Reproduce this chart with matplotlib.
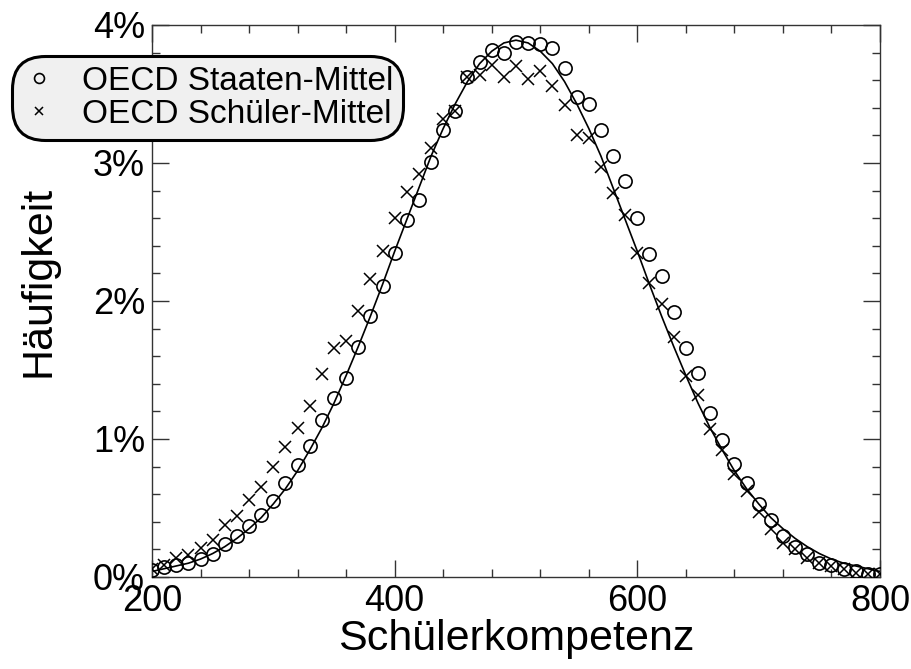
'''
Verteilung der Schülerkompetenz: OECD Staaten-Mittel vs. Schüler-Mittel
'''

from matplotlib import pyplot as plt
from matplotlib.ticker import MultipleLocator, FuncFormatter

plt.rcParams['font.family'] = ['Liberation Sans', 'DejaVu Sans']

# Kompetenzwerte (Punkte)
scores = list(range(200, 801, 10))

# Häufigkeit in %
staaten = [0.05, 0.07, 0.09, 0.10, 0.13, 0.17, 0.24, 0.30, 0.37, 0.45,
           0.55, 0.68, 0.81, 0.95, 1.14, 1.30, 1.44, 1.67, 1.89, 2.11,
           2.35, 2.59, 2.73, 3.01, 3.24, 3.38, 3.62, 3.73, 3.82, 3.80,
           3.88, 3.87, 3.86, 3.83, 3.69, 3.48, 3.43, 3.24, 3.05, 2.87,
           2.60, 2.34, 2.18, 1.92, 1.66, 1.48, 1.19, 0.99, 0.82, 0.68,
           0.53, 0.41, 0.30, 0.22, 0.17, 0.10, 0.09, 0.06, 0.04, 0.02,
           0.02]
schueler = [0.06, 0.09, 0.14, 0.16, 0.21, 0.27, 0.38, 0.44, 0.56, 0.65,
            0.80, 0.94, 1.08, 1.24, 1.47, 1.66, 1.71, 1.93, 2.16, 2.36,
            2.60, 2.79, 2.92, 3.11, 3.32, 3.38, 3.62, 3.64, 3.71, 3.62,
            3.70, 3.61, 3.67, 3.56, 3.42, 3.20, 3.18, 2.97, 2.78, 2.62,
            2.35, 2.13, 1.98, 1.74, 1.46, 1.32, 1.07, 0.92, 0.75, 0.62,
            0.47, 0.35, 0.25, 0.20, 0.14, 0.10, 0.08, 0.06, 0.03, 0.02,
            0.02]
# Normalverteilungskurve
kurve = [0.04, 0.06, 0.08, 0.10, 0.13, 0.17, 0.22, 0.28, 0.35, 0.43,
         0.53, 0.64, 0.77, 0.92, 1.08, 1.26, 1.46, 1.67, 1.89, 2.12,
         2.36, 2.59, 2.82, 3.05, 3.25, 3.43, 3.59, 3.72, 3.81, 3.87,
         3.89, 3.87, 3.81, 3.72, 3.59, 3.43, 3.25, 3.05, 2.82, 2.59,
         2.36, 2.12, 1.89, 1.67, 1.46, 1.26, 1.08, 0.92, 0.77, 0.64,
         0.53, 0.43, 0.35, 0.28, 0.22, 0.17, 0.13, 0.10, 0.08, 0.06,
         0.04]


def plot_dist():
    fig = plt.figure(figsize=(9.11, 6.69), dpi=100)
    ax = fig.add_axes([152 / 911, 1 - 577 / 669, 728 / 911, 552 / 669])

    ax.plot(scores, kurve, '-', color='black', lw=1.2, zorder=2)
    ax.plot(scores, staaten, 'o', mfc='none', mec='black', ms=9.5, mew=1.2,
            label='OECD Staaten-Mittel', zorder=3)
    ax.plot(scores, schueler, 'x', color='black', ms=8.5, mew=1.1,
            label='OECD Schüler-Mittel', zorder=3)

    ax.set_xlim(200, 800)
    ax.set_ylim(0, 4)
    ax.xaxis.set_major_locator(MultipleLocator(200))
    ax.xaxis.set_minor_locator(MultipleLocator(40))
    ax.yaxis.set_major_locator(MultipleLocator(1))
    ax.yaxis.set_minor_locator(MultipleLocator(0.2))
    ax.yaxis.set_major_formatter(FuncFormatter(lambda v, p: '%d%%' % round(v)))
    ax.tick_params(which='both', direction='in', top=True, right=True,
                   labelsize=26, color='#333333')
    ax.tick_params(which='major', length=12, width=1, pad=5)
    ax.tick_params(which='minor', length=6, width=1)
    for s in ax.spines.values():
        s.set_linewidth(1)
        s.set_color('#333333')

    ax.set_xlabel('Schülerkompetenz', fontsize=31, labelpad=0)
    ax.set_ylabel('Häufigkeit', fontsize=31, labelpad=25)
    ax.yaxis.label.set_y(0.535)

    leg = ax.legend(loc='upper left', bbox_to_anchor=(12 / 911, 1 - 56 / 669),
                    bbox_transform=fig.transFigure, borderaxespad=0,
                    fontsize=24, frameon=True, fancybox=True,
                    handlelength=1.0, handletextpad=0.8, labelspacing=0.05,
                    borderpad=0.3, markerscale=0.75)
    frame = leg.get_frame()
    frame.set_facecolor('#f0f0f0')
    frame.set_edgecolor('black')
    frame.set_alpha(1)
    frame.set_linewidth(2.2)
    frame.set_boxstyle('round,pad=0,rounding_size=1.0')

    fig.savefig('out.png', dpi=100)


if __name__ == '__main__':
    plot_dist()
